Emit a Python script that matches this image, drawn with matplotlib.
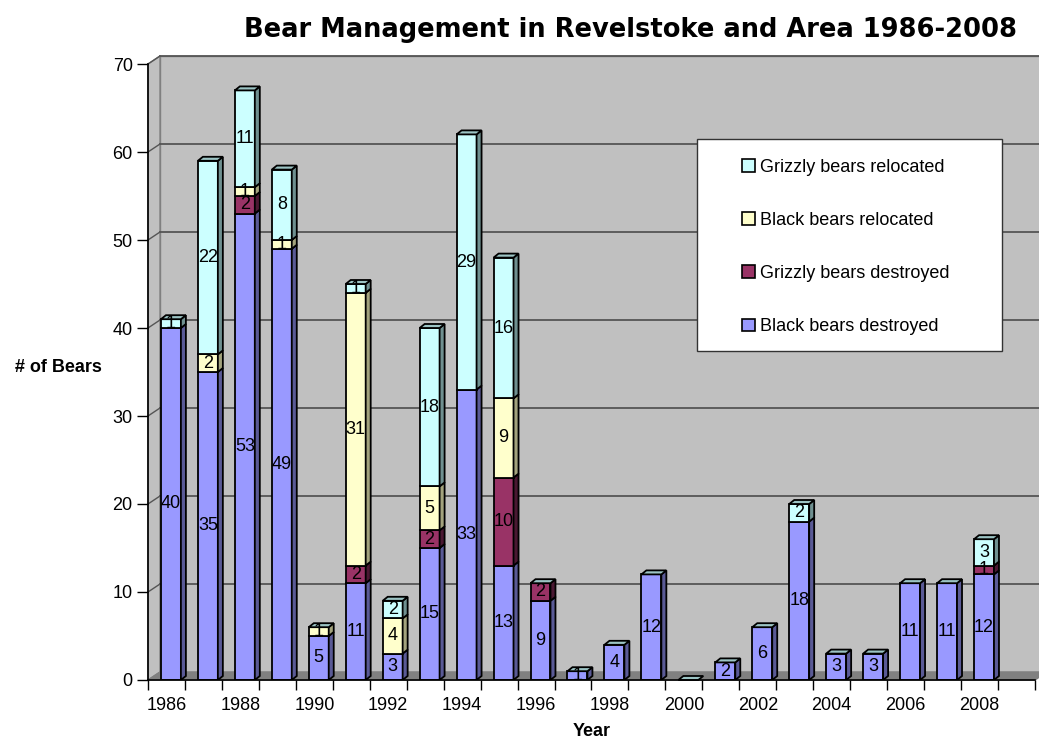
import matplotlib
matplotlib.use('Agg')
import matplotlib.pyplot as plt
from matplotlib.patches import Polygon, Rectangle, Patch

plt.rcParams['font.family'] = ['Liberation Sans', 'DejaVu Sans']

years = list(range(1986, 2009))
black_destroyed = [40, 35, 53, 49, 5, 11, 3, 15, 33, 13, 9, 1, 4, 12, 0, 2, 6, 18, 3, 3, 11, 11, 12]
grizzly_destroyed = [0, 0, 2, 0, 0, 2, 0, 2, 0, 10, 2, 0, 0, 0, 0, 0, 0, 0, 0, 0, 0, 0, 1]
black_relocated = [0, 2, 1, 1, 1, 31, 4, 5, 0, 9, 0, 0, 0, 0, 0, 0, 0, 0, 0, 0, 0, 0, 0]
grizzly_relocated = [1, 22, 11, 8, 0, 1, 2, 18, 29, 16, 0, 0, 0, 0, 0, 0, 0, 2, 0, 0, 0, 0, 3]

series = [
    ('Black bears destroyed', black_destroyed, '#9999FF', '#5A5A96'),
    ('Grizzly bears destroyed', grizzly_destroyed, '#993366', '#4A1832'),
    ('Black bears relocated', black_relocated, '#FFFFCC', '#A3A37D'),
    ('Grizzly bears relocated', grizzly_relocated, '#CCFFFF', '#6F9090'),
]

W, H = 1039, 741
fig = plt.figure(figsize=(W / 100, H / 100), dpi=100)
ax = fig.add_axes([148 / W, 61 / H, 887 / W, 616 / H])
n_slots = len(years) + 1
ax.set_xlim(-0.5, n_slots - 0.5)
ax.set_ylim(0, 70)
ax.set_facecolor('none')

# 3D offsets (wall depth and bar depth) in data units
px_x = 887 / n_slots
px_y = 616 / 70
wdx, wdy = 12 / px_x, 8 / px_y
bdx, bdy = 5 / px_x, 4 / px_y

x_lo, x_hi = -0.5, n_slots - 0.5
wall = Polygon([(x_lo + wdx, wdy), (x_hi + wdx, wdy), (x_hi + wdx, 70 + wdy),
                (x_lo + wdx, 70 + wdy)], closed=True, facecolor='#C0C0C0',
               edgecolor='#808080', lw=1, clip_on=False, zorder=0)
side = Polygon([(x_lo, 0), (x_lo + wdx, wdy), (x_lo + wdx, 70 + wdy), (x_lo, 70)],
               closed=True, facecolor='#C0C0C0', edgecolor='#808080', lw=1,
               clip_on=False, zorder=0)
floor = Polygon([(x_lo, 0), (x_hi, 0), (x_hi + wdx, wdy), (x_lo + wdx, wdy)],
                closed=True, facecolor='#808080', edgecolor='#808080', lw=1,
                clip_on=False, zorder=0.5)
for p in (wall, side, floor):
    ax.add_patch(p)

for level in range(10, 71, 10):
    ax.plot([x_lo + wdx, x_hi + wdx], [level + wdy, level + wdy], color='#555555',
            lw=1.3, clip_on=False, zorder=0.6)
    ax.plot([x_lo, x_lo + wdx], [level, level + wdy], color='#555555', lw=1,
            clip_on=False, zorder=0.6)

w = 0.54
bottoms = [0] * len(years)
for name, vals, col, dark in series:
    for i, v in enumerate(vals):
        if v == 0:
            continue
        x0 = i - 0.15
        b = bottoms[i]
        ax.bar(x0, v, width=w, bottom=b, align='edge', color=col,
               edgecolor='black', lw=1.3, zorder=2)
        ax.add_patch(Polygon([(x0 + w, b), (x0 + w + bdx, b + bdy),
                              (x0 + w + bdx, b + v + bdy), (x0 + w, b + v)],
                             closed=True, facecolor=dark, edgecolor='black',
                             lw=1.3, zorder=2))
        ax.text(x0 + w / 2, b + v / 2, str(v), ha='center', va='center',
                fontsize=13, color='black', zorder=3)
        bottoms[i] = b + v

for i, top in enumerate(bottoms):
    x0 = i - 0.15
    ax.add_patch(Polygon([(x0, top), (x0 + bdx, top + bdy), (x0 + w + bdx, top + bdy),
                          (x0 + w, top)], closed=True, facecolor='#9CC4C4',
                         edgecolor='black', lw=1.3, zorder=2.5, clip_on=False))

ax.spines['top'].set_visible(False)
ax.spines['right'].set_visible(False)
ax.spines['left'].set_linewidth(1.2)
ax.spines['bottom'].set_linewidth(1.2)

ax.set_yticks(range(0, 71, 10))
ax.tick_params(axis='y', direction='out', length=8, width=1, pad=3, labelsize=13)
ax.set_xticks([i - 0.5 for i in range(n_slots + 1)])
ax.set_xticklabels([])
ax.tick_params(axis='x', which='major', direction='out', length=7, width=1)
ax.set_xticks(list(range(0, len(years), 2)), minor=True)
ax.set_xticklabels([str(y) for y in years[::2]], minor=True)
ax.tick_params(axis='x', which='minor', length=0, pad=12, labelsize=13)

fig.text(630 / W, 1 - 30 / H, 'Bear Management in Revelstoke and Area 1986-2008',
         ha='center', va='center', fontsize=18.5, fontweight='bold',
         family='DejaVu Sans')
fig.text(58 / W, 1 - 368 / H, '# of Bears', ha='center', va='center',
         fontsize=13, fontweight='bold')
fig.text(592 / W, 1 - 731 / H, 'Year', ha='center', va='center',
         fontsize=13, fontweight='bold')

fig.add_artist(Rectangle((697 / W, 1 - 351 / H), 305 / W, 212 / H,
                         transform=fig.transFigure, facecolor='white',
                         edgecolor='#333333', lw=1, zorder=5))
handles = [Patch(facecolor=col, edgecolor='black', lw=1.2, label=name)
           for name, vals, col, dark in series][::-1]
leg = fig.legend(handles=handles, loc='center left',
                 bbox_to_anchor=(733 / W, 1 - 247 / H), frameon=False,
                 fontsize=13, handlelength=0.7, handleheight=0.7,
                 handletextpad=0.28, labelspacing=2.0, borderpad=0)
leg.set_zorder(6)

fig.savefig('out.png', dpi=100)
